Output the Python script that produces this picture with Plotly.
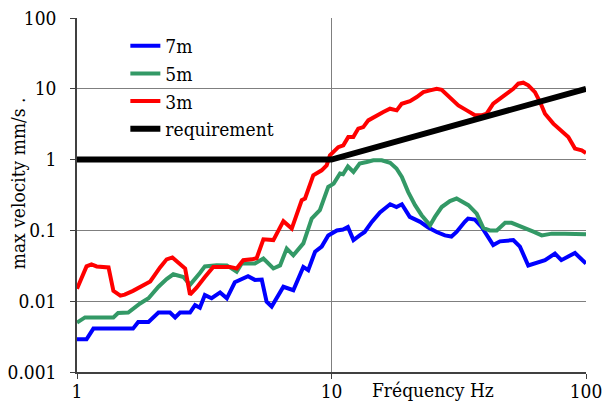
import plotly.graph_objects as go

# ---- data ----
f_7m = [1.0, 1.09, 1.16, 1.66, 1.74, 1.91, 2.09, 2.32, 2.43, 2.54, 2.78, 2.91, 3.04, 3.18, 3.38,
        3.65, 3.88, 4.17, 4.70, 5.0, 5.32, 5.56, 5.82, 6.47, 7.08, 7.75, 8.10, 8.62, 9.15, 9.71,
        10.5, 11.1, 11.6, 12.2, 12.9, 13.5, 14.4, 15.5, 17.0, 18.0, 18.9, 20.3, 22.3, 24.0, 25.9,
        27.9, 29.6, 31.0, 33.4, 34.4, 36.6, 38.9, 43.2, 45.9, 51.8, 55.0, 59.3, 63.0, 69.0, 75.5,
        80.0, 90.5, 100.0]
v_7m = [0.0029, 0.0029, 0.0041, 0.0041, 0.0051, 0.0051, 0.0069, 0.0069, 0.0059, 0.0069, 0.0069,
        0.0088, 0.0081, 0.0122, 0.011, 0.0133, 0.011, 0.0185, 0.0225, 0.020, 0.0202, 0.0098, 0.0084,
        0.016, 0.0143, 0.0305, 0.0275, 0.050, 0.059, 0.085, 0.100, 0.103, 0.112, 0.073, 0.085, 0.095,
        0.132, 0.180, 0.234, 0.214, 0.234, 0.155, 0.132, 0.110, 0.095, 0.085, 0.082, 0.095, 0.132,
        0.147, 0.142, 0.112, 0.062, 0.070, 0.073, 0.059, 0.032, 0.034, 0.038, 0.047, 0.038, 0.048,
        0.034]

f_5m = [1.0, 1.075, 1.39, 1.45, 1.59, 1.77, 1.91, 2.09, 2.25, 2.39, 2.62, 2.78, 3.04, 3.18, 3.54,
        3.88, 4.24, 4.44, 5.0, 5.40, 5.91, 6.28, 6.67, 7.08, 7.75, 8.36, 9.0, 9.71, 10.2, 10.8, 11.1,
        11.6, 12.2, 12.9, 13.75, 14.6, 15.75, 17.0, 18.0, 18.9, 20.0, 21.3, 22.6, 24.4, 25.5, 27.1,
        29.2, 31.0, 34.5, 37.2, 39.5, 41.9, 44.6, 48.1, 51.0, 54.2, 57.6, 62.1, 67.0, 73.3, 82.7,
        90.5, 100.0]
v_5m = [0.0050, 0.0059, 0.0059, 0.0068, 0.0069, 0.0093, 0.011, 0.016, 0.0205, 0.024, 0.022, 0.017,
        0.025, 0.031, 0.0323, 0.032, 0.026, 0.034, 0.034, 0.040, 0.029, 0.032, 0.0555, 0.0445,
        0.0655, 0.147, 0.193, 0.411, 0.458, 0.635, 0.62, 0.80, 0.67, 0.88, 0.925, 0.98, 0.98, 0.90,
        0.75, 0.57, 0.35, 0.227, 0.164, 0.118, 0.155, 0.214, 0.26, 0.282, 0.227, 0.173, 0.108, 0.100,
        0.100, 0.128, 0.128, 0.118, 0.108, 0.096, 0.085, 0.090, 0.090, 0.090, 0.088]

f_3m = [1.0, 1.09, 1.14, 1.195, 1.33, 1.39, 1.48, 1.54, 1.66, 1.82, 1.94, 2.12, 2.25, 2.37, 2.54,
        2.66, 2.78, 2.95, 3.18, 3.43, 3.65, 3.99, 4.24, 4.50, 4.86, 5.08, 5.40, 5.91, 6.47, 6.98,
        7.64, 7.87, 8.48, 9.15, 9.57, 9.86, 10.63, 11.13, 11.64, 12.18, 12.74, 13.33, 13.95, 15.05,
        15.98, 16.98, 18.04, 18.87, 20.34, 21.62, 22.95, 24.38, 25.9, 27.1, 29.2, 31.5, 34.0, 36.6,
        38.9, 40.7, 43.2, 45.9, 48.8, 51.8, 54.2, 56.7, 59.3, 63.0, 66.0, 69.0, 74.4, 81.4, 85.2,
        90.5, 96.2, 100.0]
v_3m = [0.015, 0.031, 0.033, 0.031, 0.030, 0.014, 0.012, 0.0124, 0.014, 0.0165, 0.019, 0.030,
        0.039, 0.0415, 0.033, 0.029, 0.0124, 0.0155, 0.022, 0.0305, 0.0305, 0.0305, 0.029, 0.038,
        0.039, 0.0405, 0.075, 0.073, 0.135, 0.106, 0.267, 0.282, 0.60, 0.706, 0.83, 1.15, 1.5, 1.59,
        2.08, 2.08, 2.74, 2.88, 3.58, 4.22, 4.69, 5.23, 4.96, 6.15, 6.7, 7.64, 8.98, 9.5, 10.0, 9.7,
        7.64, 5.83, 4.96, 4.22, 4.22, 4.45, 6.15, 7.26, 8.27, 10.0, 11.8, 12.2, 11.2, 8.98, 6.5,
        4.45, 3.22, 2.45, 2.08, 1.43, 1.35, 1.24]

f_req = [1, 10, 100]
v_req = [1, 1, 10]

x_ticks = [1, 10, 100]
x_ticktext = ["1", "10", "100"]
y_ticks = [0.001, 0.01, 0.1, 1, 10, 100]
y_ticktext = ["0.001", "0.01", "0.1", "1", "10", "100"]

FONT = "DejaVu Serif Condensed, DejaVu Serif"
FS = 19

fig = go.Figure()
fig.add_trace(go.Scatter(x=f_7m, y=v_7m, mode="lines", name="7m",
                         line=dict(color="#0000FF", width=4)))
fig.add_trace(go.Scatter(x=f_5m, y=v_5m, mode="lines", name="5m",
                         line=dict(color="#339966", width=4)))
fig.add_trace(go.Scatter(x=f_3m, y=v_3m, mode="lines", name="3m",
                         line=dict(color="#FF0000", width=4)))
fig.add_trace(go.Scatter(x=f_req, y=v_req, mode="lines", name="requirement",
                         line=dict(color="#000000", width=6)))

fig.update_layout(
    width=602, height=410,
    margin=dict(l=77, r=16, t=18, b=38),
    paper_bgcolor="white", plot_bgcolor="white",
    font=dict(family=FONT, size=FS, color="black"),
    showlegend=True,
    legend=dict(x=0.095, y=0.975, xanchor="left", yanchor="top",
                bgcolor="rgba(0,0,0,0)", font=dict(family=FONT, size=FS),
                itemwidth=30, tracegroupgap=0),
    xaxis=dict(type="log", range=[0, 2], tickvals=x_ticks, ticktext=x_ticktext,
               tickfont=dict(family=FONT, size=FS), ticklabeloverflow="allow",
               showgrid=True, gridcolor="#7f7f7f", gridwidth=1,
               showline=True, linecolor="#404040", linewidth=1.5,
               ticks="outside", ticklen=5, tickcolor="#404040",
               ticklabelstandoff=-4, zeroline=False, automargin=False),
    yaxis=dict(type="log", range=[-3, 2], tickvals=y_ticks, ticktext=y_ticktext,
               tickfont=dict(family=FONT, size=FS), ticklabeloverflow="allow",
               showgrid=True, gridcolor="#7f7f7f", gridwidth=1,
               showline=True, linecolor="#404040", linewidth=1.5,
               ticks="outside", ticklen=5, tickcolor="#404040",
               ticklabelstandoff=10, zeroline=False, automargin=False),
    annotations=[
        dict(text="Fréquency Hz", xref="paper", yref="paper", x=0.699, y=-0.05,
             xanchor="center", yanchor="middle", showarrow=False,
             font=dict(family=FONT, size=FS)),
        dict(text="max velocity mm/s .", xref="paper", yref="paper", x=-0.116, y=0.533,
             xanchor="center", yanchor="middle", textangle=-90, showarrow=False,
             font=dict(family=FONT, size=FS)),
    ],
)

fig.write_html("out.html")
